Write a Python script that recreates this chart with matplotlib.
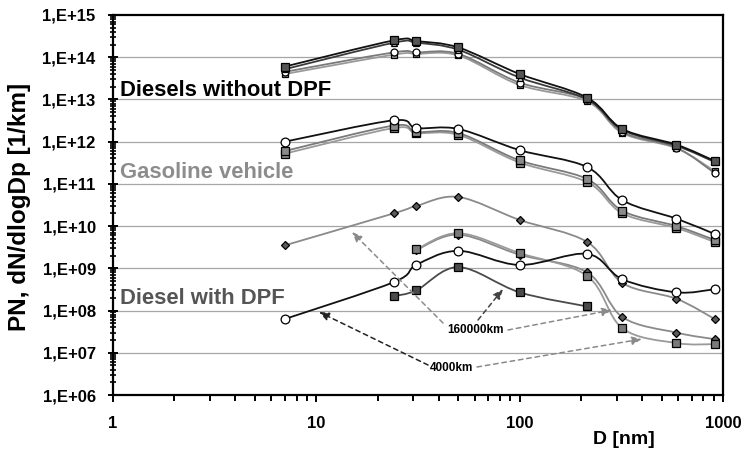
import numpy as np
import matplotlib
matplotlib.use("Agg")
import matplotlib.pyplot as plt
from matplotlib.path import Path
from matplotlib.patches import PathPatch
from matplotlib.ticker import LogLocator, NullFormatter, FixedLocator

plt.rcParams['font.family'] = ['Liberation Sans', 'DejaVu Sans']
plt.rcParams['font.weight'] = 'bold'

# Particle diameters of the size classes [nm]
d_full = [7, 24, 31, 50, 100, 215, 320, 590, 910]

# Diesels without DPF
diesel_a = [6.0e13, 2.5e14, 2.4e14, 1.7e14, 4.0e13, 1.1e13, 2.0e12, 8.5e11, 3.5e11]
diesel_b = [5.2e13, 2.2e14, 2.2e14, 1.5e14, 3.3e13, 1.0e13, 1.9e12, 8.0e11, 3.3e11]
diesel_c = [4.5e13, 1.3e14, 1.3e14, 1.2e14, 2.5e13, 1.0e13, 1.7e12, 7.2e11, 1.8e11]
diesel_d = [4.0e13, 1.15e14, 1.2e14, 1.1e14, 2.2e13, 9.0e12, 1.6e12, 7.0e11, 2.0e11]

# Gasoline vehicle
gas_a = [1.0e12, 3.2e12, 2.1e12, 2.0e12, 6.3e11, 2.5e11, 4.1e10, 1.5e10, 6.5e9]
gas_b = [6.0e11, 2.4e12, 1.7e12, 1.6e12, 3.6e11, 1.3e11, 2.3e10, 1.0e10, 4.7e9]
gas_c = [5.2e11, 2.1e12, 1.6e12, 1.45e12, 3.2e11, 1.1e11, 2.0e10, 9.0e9, 4.2e9]

# Diesel with DPF
dpf_a = [3.5e9, 2.0e10, 3.0e10, 4.9e10, 1.4e10, 4.2e9, 4.5e8, 1.9e8, 6.3e7]
dpf_b = [6.3e7, 4.7e8, 1.2e9, 2.6e9, 1.2e9, 2.2e9, 5.5e8, 2.7e8, 3.2e8]
d_c = [24, 31, 50, 100, 215]
dpf_c = [2.2e8, 3.0e8, 1.07e9, 2.7e8, 1.25e8]
d_short = [31, 50, 100, 215, 320, 590, 910]
dpf_d = [2.8e9, 6.8e9, 2.3e9, 6.6e8, 3.8e7, 1.7e7, 1.6e7]
dpf_e = [2.7e9, 6.3e9, 2.1e9, 8.0e8, 7.0e7, 3.0e7, 2.1e7]

x_ticks = [1, 10, 100, 1000]
x_tick_labels = ['1', '10', '100', '1000']
y_exponents = list(range(6, 16))
y_tick_labels = ['1,E+%02d' % e for e in y_exponents]


def smooth_path(x, y):
    """Bezier curve through the points (Catmull-Rom, in log-log space)."""
    lx = np.log10(np.asarray(x, float))
    ly = np.log10(np.asarray(y, float))
    p = np.column_stack([lx, ly])
    n = len(p)
    verts = [p[0]]
    codes = [Path.MOVETO]
    for i in range(n - 1):
        p0 = p[i - 1] if i > 0 else p[i]
        p1 = p[i]
        p2 = p[i + 1]
        p3 = p[i + 2] if i + 2 < n else p[i + 1]
        c1 = p1 + (p2 - p0) / 6.0
        c2 = p2 - (p3 - p1) / 6.0
        verts += [c1, c2, p2]
        codes += [Path.CURVE4] * 3
    verts = 10 ** np.array(verts)
    return Path(verts, codes)


def series(ax, x, y, color, lw, marker, mfc, ms, mec='black', z=3):
    ax.add_patch(PathPatch(smooth_path(x, y), fill=False, edgecolor=color,
                           linewidth=lw, zorder=z, capstyle='round'))
    ax.plot(x, y, linestyle='none', marker=marker, markerfacecolor=mfc,
            markeredgecolor=mec, markersize=ms, markeredgewidth=0.9, zorder=z + 0.5)


fig = plt.figure(figsize=(7.44, 4.53), dpi=100)
ax = fig.add_axes([113 / 744, 58 / 453, 610 / 744, 380 / 453])
ax.set_xscale('log')
ax.set_yscale('log')
ax.set_xlim(1, 1000)
ax.set_ylim(1e6, 1e15)

# horizontal grid at every decade
for e in y_exponents[1:-1]:
    ax.axhline(10.0 ** e, color='#a6a6a6', linewidth=0.9, zorder=1)

black = '#111111'
grey = '#8a8a8a'
dark = '#4a4a4a'

# Diesels without DPF
series(ax, d_full, diesel_d, '#9a9a9a', 1.3, 's', '#9a9a9a', 5.0)
series(ax, d_full, diesel_c, '#7a7a7a', 1.3, 'o', 'white', 5.0)
series(ax, d_full, diesel_b, '#3a3a3a', 1.3, '^', '#cccccc', 5.0)
series(ax, d_full, diesel_a, black, 1.3, 's', '#555555', 5.5)

# Gasoline vehicle
series(ax, d_full, gas_c, '#9a9a9a', 1.3, 's', '#8a8a8a', 5.5)
series(ax, d_full, gas_b, '#7a7a7a', 1.3, 's', '#8a8a8a', 5.5)
series(ax, d_full, gas_a, black, 1.3, 'o', 'white', 6.3)

# Diesel with DPF
series(ax, d_full, dpf_a, grey, 1.3, 'D', '#5a5a5a', 4.5)
series(ax, d_short, dpf_e, grey, 1.3, 'D', '#5a5a5a', 4.5)
series(ax, d_short, dpf_d, '#9a9a9a', 1.3, 's', '#7a7a7a', 5.5)
series(ax, d_full, dpf_b, black, 1.3, 'o', 'white', 6.3)
series(ax, d_c, dpf_c, dark, 1.3, 's', '#4a4a4a', 5.5)

# group labels
ax.text(120 / 744, 1 - 90 / 453, 'Diesels without DPF', transform=fig.transFigure,
        fontsize=15.8, fontweight='bold', color='black', va='center', ha='left', zorder=6)
ax.text(120 / 744, 1 - 173 / 453, 'Gasoline vehicle', transform=fig.transFigure,
        fontsize=15.8, fontweight='bold', color='#8c8c8c', va='center', ha='left', zorder=6)
ax.text(120 / 744, 1 - 299 / 453, 'Diesel with DPF', transform=fig.transFigure,
        fontsize=15.8, fontweight='bold', color='#555555', va='center', ha='left', zorder=6)


def px(xp, yp):
    return (xp / 744, 1 - yp / 453)


def arrow(tail, tip, color):
    ax.annotate('', xy=px(*tip), xycoords='figure fraction',
                xytext=px(*tail), textcoords='figure fraction',
                arrowprops=dict(arrowstyle='-|>,head_length=0.6,head_width=0.25',
                                color=color, linestyle=(0, (3, 2.5)), linewidth=1.1,
                                shrinkA=0, shrinkB=0), zorder=5)


fig.text(*px(476, 330), '160000km', fontsize=8.5, fontweight='bold',
         ha='center', va='center', zorder=6)
fig.text(*px(452, 368), '4000km', fontsize=8.5, fontweight='bold',
         ha='center', va='center', zorder=6)
arrow((443, 323), (352, 232), '#8a8a8a')
arrow((478, 320), (503, 289), '#444444')
arrow((508, 330), (612, 310), '#8a8a8a')
arrow((428, 365), (319, 312), '#222222')
arrow((477, 367), (642, 339), '#8a8a8a')

# axes styling
for s in ax.spines.values():
    s.set_linewidth(1.6)
    s.set_color('black')
ax.xaxis.set_major_locator(FixedLocator(x_ticks))
ax.set_xticklabels(x_tick_labels)
ax.xaxis.set_minor_locator(LogLocator(base=10, subs=np.arange(2, 10), numticks=20))
ax.xaxis.set_minor_formatter(NullFormatter())
ax.yaxis.set_major_locator(FixedLocator([10.0 ** e for e in y_exponents]))
ax.set_yticklabels(y_tick_labels)
ax.yaxis.set_minor_locator(LogLocator(base=10, subs=np.arange(2, 10), numticks=20))
ax.yaxis.set_minor_formatter(NullFormatter())
ax.tick_params(axis='x', which='major', direction='out', length=5, width=1.4,
               labelsize=12, pad=10)
ax.tick_params(axis='x', which='minor', direction='out', length=4, width=1.4)
ax.tick_params(axis='y', which='major', direction='inout', length=7, width=1.4,
               labelsize=12, pad=9)
ax.tick_params(axis='y', which='minor', direction='inout', length=4, width=1.2)
for lab in ax.get_xticklabels() + ax.get_yticklabels():
    lab.set_fontweight('bold')

fig.text(*px(20, 207), 'PN, dN/dlogDp [1/km]', rotation=90, fontsize=17.5,
         fontweight='bold', ha='center', va='center')
fig.text(*px(655, 440), 'D [nm]', fontsize=14, fontweight='bold',
         ha='right', va='center')

fig.savefig('out.png', dpi=100)
